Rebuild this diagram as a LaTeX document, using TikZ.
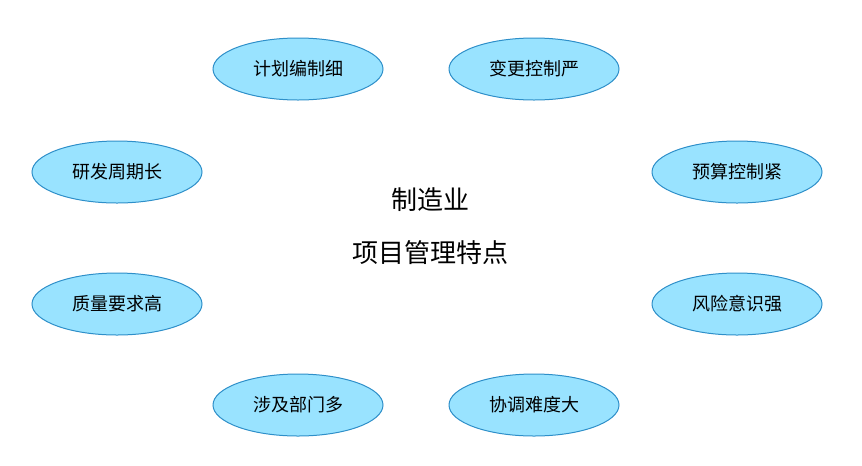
\documentclass[tikz,border=0pt]{standalone}
\usepackage{fontspec}
\setmainfont{Noto Sans CJK SC}
\definecolor{ovalfill}{HTML}{99E3FF}
\definecolor{ovalline}{HTML}{2E8FC9}
\tikzset{every picture/.style={line width=0.75pt}}
\tikzset{oval/.style={ellipse,draw=ovalline,fill=ovalfill,minimum width=127.5pt,minimum height=46.5pt,inner sep=0.75pt,font=\fontsize{13.5}{16}\selectfont}}
\usetikzlibrary{shapes.geometric}
\begin{document}
\begin{tikzpicture}[x=0.75pt,y=0.75pt,yscale=-1,xscale=1]
\useasboundingbox (0,0) rectangle (862,465);

% Ovals
\node [oval] (plan) at (298,69) {计划编制细};
\node [oval] (change) at (534,69) {变更控制严};
\node [oval] (rd) at (117,172) {研发周期长};
\node [oval] (budget) at (737,172) {预算控制紧};
\node [oval] (quality) at (117,304) {质量要求高};
\node [oval] (risk) at (737,304) {风险意识强};
\node [oval] (dept) at (298,405) {涉及部门多};
\node [oval] (coord) at (534,405) {协调难度大};

% Title
\node [font=\fontsize{19.5}{24}\selectfont] (title1) at (430,200) {制造业};
\node [font=\fontsize{19.5}{24}\selectfont] (title2) at (430,253) {项目管理特点};

\end{tikzpicture}
\end{document}
